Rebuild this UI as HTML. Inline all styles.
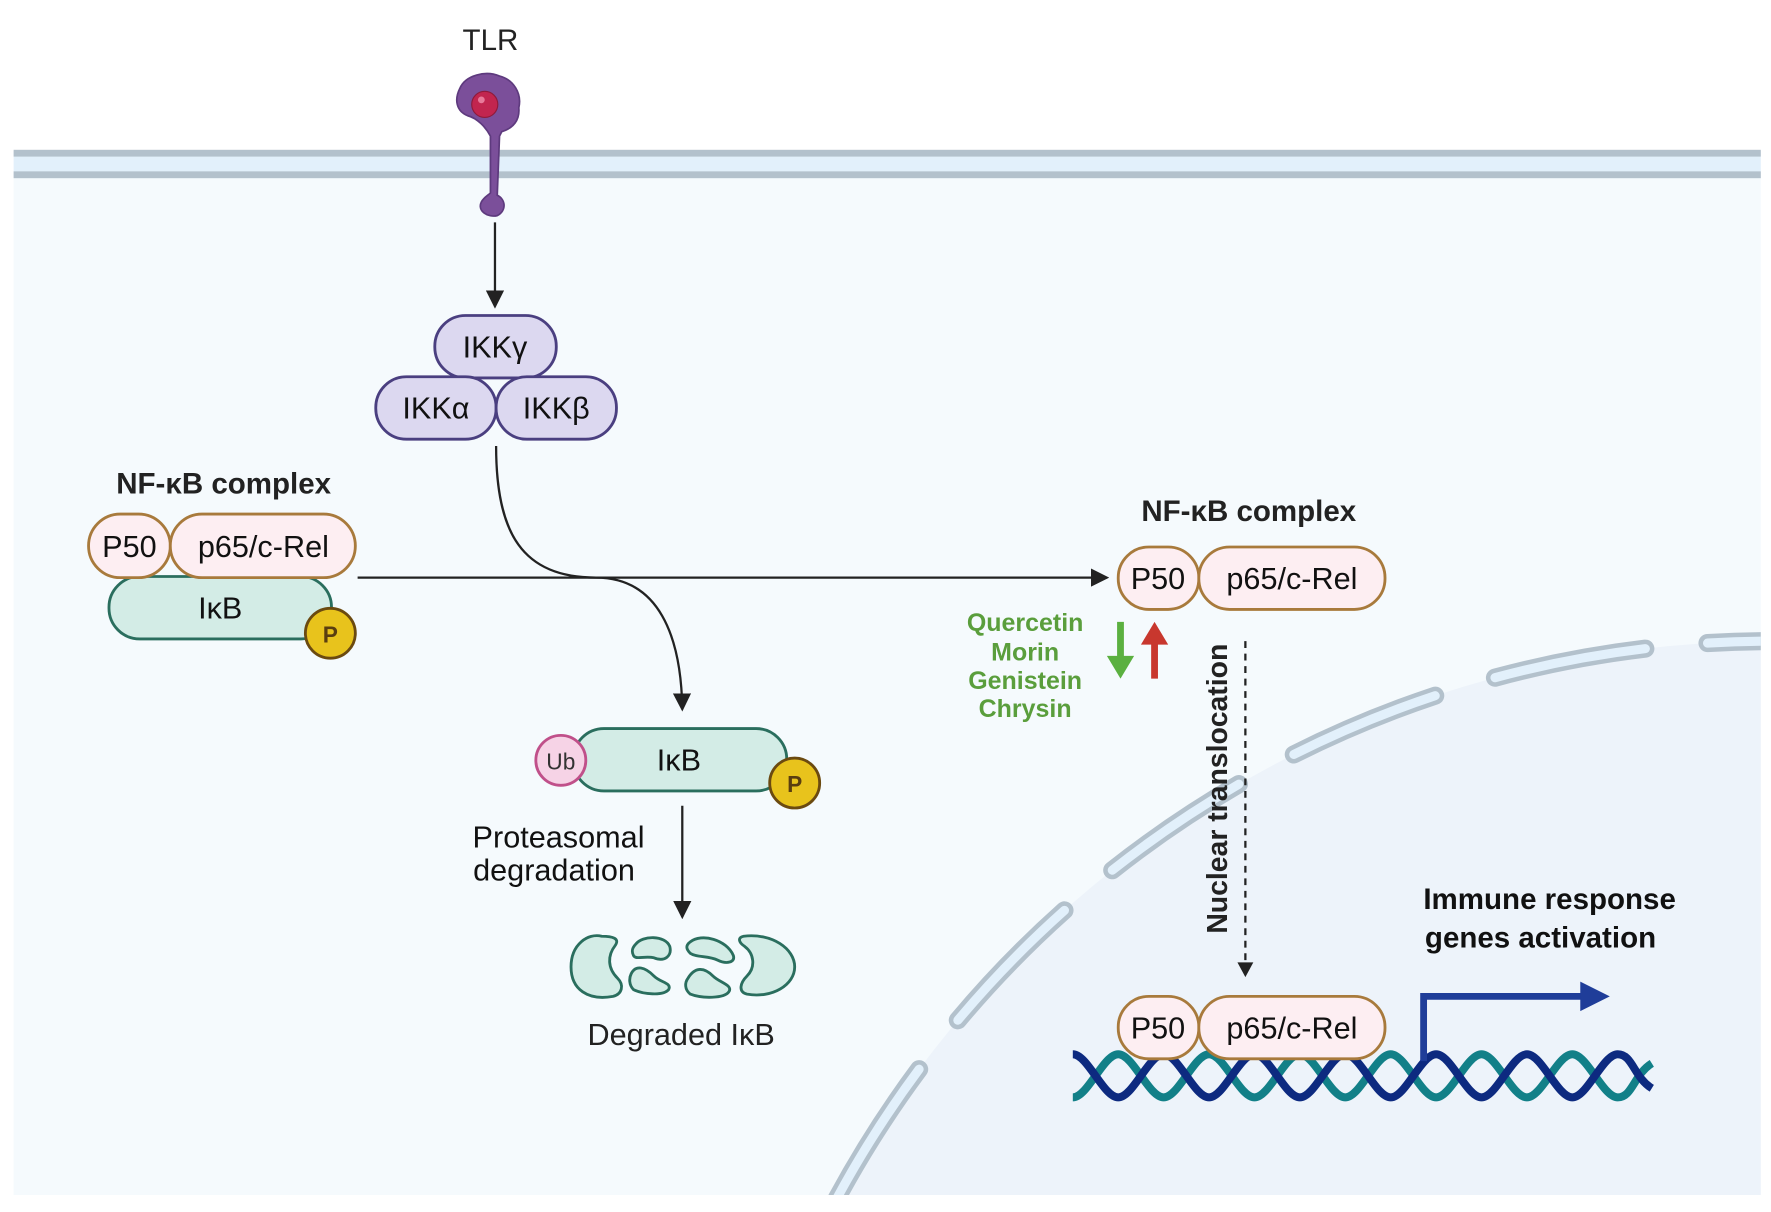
<!DOCTYPE html>
<html><head><meta charset="utf-8"><style>
html,body{margin:0;padding:0;background:#fff;overflow:hidden;width:1771px;height:1212px;}
svg{display:block;}
text{font-family:"Liberation Sans",sans-serif;}
</style></head><body>
<svg width="1771" height="1212" viewBox="0 0 1560 1068" preserveAspectRatio="none" xmlns="http://www.w3.org/2000/svg">
<defs>
<marker id="ah2" markerWidth="16" markerHeight="16" refX="14" refY="8" orient="auto" markerUnits="userSpaceOnUse"><path d="M0,0 L16,8 L0,16 z" fill="#222"/></marker>
<clipPath id="cell"><rect x="12" y="157" width="1539" height="896"/></clipPath>
</defs>
<rect width="1560" height="1068" fill="#fff"/>
<rect x="12" y="157" width="1539" height="896" fill="#f5fafd"/>
<rect x="12" y="133" width="1539" height="24" fill="#e2f0fb"/>
<rect x="12" y="132" width="1539" height="6" fill="#b3c1cc"/>
<rect x="12" y="151" width="1539" height="6" fill="#b3c1cc"/>
<g clip-path="url(#cell)">
<circle cx="1560" cy="1500" r="935" fill="#edf3fa"/>
<circle cx="1560" cy="1500" r="935" fill="none" stroke="#b3c1cc" stroke-width="16" stroke-dasharray="135 55" stroke-linecap="round" stroke-dashoffset="20"/>
<circle cx="1560" cy="1500" r="935" fill="none" stroke="#e2f0fb" stroke-width="8" stroke-dasharray="135 55" stroke-linecap="round" stroke-dashoffset="20"/>
</g>
<path d="M405,78 C410,66 428,62 440,67 C452,70 460,82 457,95 C458,106 452,113 442,116 L440,120 L438,172 C446,176 446,186 438,190 C430,192 420,186 424,178 C426,174 430,172 432,170 L432,120 C428,112 420,104 412,102 C402,98 400,88 405,78 z" fill="#7b4f9a" stroke="#5e3a7e" stroke-width="1.5"/>
<circle cx="427" cy="92" r="11.5" fill="#c2254f" stroke="#8e1a3a" stroke-width="1"/>
<circle cx="424" cy="88" r="3" fill="#e87a9a"/>
<text x="432" y="44" font-size="26" text-anchor="middle" fill="#222">TLR</text>
<line x1="436" y1="196" x2="436" y2="270" stroke="#222" stroke-width="2" marker-end="url(#ah2)"/>
<g stroke="#4a3f80" stroke-width="2.5" fill="#dcd8f0">
<rect x="383" y="278" width="107" height="55" rx="27"/>
<rect x="331" y="332" width="106" height="55" rx="27"/>
<rect x="437" y="332" width="106" height="55" rx="27"/>
</g>
<g font-size="27" text-anchor="middle" fill="#111">
<text x="436" y="315">IKKγ</text>
<text x="384" y="369">IKKα</text>
<text x="490" y="369">IKKβ</text>
</g>
<text x="197" y="435" font-size="26" font-weight="bold" text-anchor="middle" fill="#222">NF-κB complex</text>
<rect x="96" y="508" width="196" height="55" rx="27" fill="#d3ece6" stroke="#2a6e5e" stroke-width="2.5"/>
<text x="194" y="545" font-size="27" text-anchor="middle" fill="#111">IκB</text>
<circle cx="291" cy="558" r="22" fill="#e8c31c" stroke="#6b4a10" stroke-width="2.5"/>
<text x="291" y="566" font-size="20" font-weight="bold" text-anchor="middle" fill="#5a3e10">P</text>
<g stroke="#a87a3c" stroke-width="2.5" fill="#fdeef2">
<rect x="78" y="453" width="72" height="56" rx="28"/>
<rect x="150" y="453" width="163" height="56" rx="28"/>
</g>
<text x="114" y="491" font-size="27" text-anchor="middle" fill="#111">P50</text>
<text x="232" y="491" font-size="27" text-anchor="middle" fill="#111">p65/c-Rel</text>
<line x1="315" y1="509" x2="975" y2="509" stroke="#222" stroke-width="2" marker-end="url(#ah2)"/>
<path d="M437,393 C437,470 460,509 525,509 C580,509 600,560 601,625" fill="none" stroke="#222" stroke-width="2" marker-end="url(#ah2)"/>
<text x="1100" y="459" font-size="26" font-weight="bold" text-anchor="middle" fill="#222">NF-κB complex</text>
<g stroke="#a87a3c" stroke-width="2.5" fill="#fdeef2">
<rect x="985" y="482" width="71" height="55" rx="27"/>
<rect x="1056" y="482" width="164" height="55" rx="27"/>
</g>
<text x="1020" y="519" font-size="27" text-anchor="middle" fill="#111">P50</text>
<text x="1138" y="519" font-size="27" text-anchor="middle" fill="#111">p65/c-Rel</text>
<g font-size="22" font-weight="bold" text-anchor="middle" fill="#5a9e3c">
<text x="903" y="556">Quercetin</text>
<text x="903" y="582">Morin</text>
<text x="903" y="607">Genistein</text>
<text x="903" y="632">Chrysin</text>
</g>
<path d="M984,548 h6 v30 h9 l-12,20 l-12,-20 h9 z" fill="#5bb040"/>
<path d="M1014,598 h6 v-30 h9 l-12,-20 l-12,20 h9 z" fill="#c8372e"/>
<line x1="1097" y1="565" x2="1097" y2="848" stroke="#222" stroke-width="2" stroke-dasharray="6 5"/>
<path d="M1090,848 L1104,848 L1097,861 z" fill="#222"/>
<text transform="translate(1081,695) rotate(-90)" font-size="25" font-weight="bold" text-anchor="middle" fill="#222">Nuclear translocation</text>
<rect x="505" y="642" width="188" height="55" rx="27" fill="#d3ece6" stroke="#2a6e5e" stroke-width="2.5"/>
<text x="598" y="679" font-size="27" text-anchor="middle" fill="#111">IκB</text>
<circle cx="494" cy="670" r="22" fill="#f6d3e6" stroke="#c0508a" stroke-width="2.5"/>
<text x="494" y="678" font-size="20" text-anchor="middle" fill="#333">Ub</text>
<circle cx="700" cy="690" r="22" fill="#e8c31c" stroke="#6b4a10" stroke-width="2.5"/>
<text x="700" y="698" font-size="20" font-weight="bold" text-anchor="middle" fill="#5a3e10">P</text>
<g font-size="27" text-anchor="middle" fill="#111">
<text x="492" y="747">Proteasomal</text>
<text x="488" y="776">degradation</text>
</g>
<line x1="601" y1="710" x2="601" y2="808" stroke="#222" stroke-width="2" marker-end="url(#ah2)"/>
<g fill="#d3ece6" stroke="#2a6e5e" stroke-width="2.5" stroke-linejoin="round">
<path d="M530,825 C518,822 503,832 503,852 C503,872 518,882 540,878 C548,876 550,868 544,862 C535,853 535,842 542,833 C546,827 540,825 530,825 z"/>
<path d="M560,832 C566,824 586,824 590,834 C592,842 586,848 576,844 C568,842 560,846 558,842 C556,838 557,835 560,832 z"/>
<path d="M556,858 C560,850 568,852 576,860 C582,866 592,866 589,872 C584,878 566,876 558,872 C554,868 554,862 556,858 z"/>
<path d="M608,830 C618,822 640,828 646,842 C648,848 640,850 632,846 C624,842 614,844 608,840 C604,836 604,833 608,830 z"/>
<path d="M606,862 C612,852 620,852 628,860 C634,866 646,868 642,874 C638,880 618,880 608,876 C603,872 603,866 606,862 z"/>
<path d="M655,825 C680,822 700,836 700,852 C700,868 680,880 658,876 C650,874 652,866 658,860 C666,852 664,840 656,834 C650,830 650,826 655,825 z"/>
</g>
<text x="600" y="921" font-size="27" text-anchor="middle" fill="#222">Degraded IκB</text>
<g font-size="26" font-weight="bold" text-anchor="middle" fill="#111">
<text x="1365" y="801">Immune response</text>
<text x="1357" y="835">genes activation</text>
</g>
<!-- DNA -->
<path d="M945,967 c13,0 27,-38 40,-38 c13,0 27,38 40,38 c13,0 27,-38 40,-38 c13,0 27,38 40,38 c13,0 27,-38 40,-38 c13,0 27,38 40,38 c13,0 27,-38 40,-38 c13,0 27,38 40,38 c13,0 27,-38 40,-38 c13,0 27,38 40,38 c13,0 27,-38 40,-38 c13,0 27,38 40,38 c13,0 14,-20 30,-30" fill="none" stroke="#128088" stroke-width="7"/>
<path d="M945,929 c13,0 27,38 40,38 c13,0 27,-38 40,-38 c13,0 27,38 40,38 c13,0 27,-38 40,-38 c13,0 27,38 40,38 c13,0 27,-38 40,-38 c13,0 27,38 40,38 c13,0 27,-38 40,-38 c13,0 27,38 40,38 c13,0 27,-38 40,-38 c13,0 27,38 40,38 c13,0 27,-38 40,-38 c13,0 14,20 30,30" fill="none" stroke="#0d2a80" stroke-width="7"/>
<g stroke="#a87a3c" stroke-width="2.5" fill="#fdeef2">
<rect x="985" y="878" width="71" height="55" rx="27"/>
<rect x="1056" y="878" width="164" height="55" rx="27"/>
</g>
<text x="1020" y="915" font-size="27" text-anchor="middle" fill="#111">P50</text>
<text x="1138" y="915" font-size="27" text-anchor="middle" fill="#111">p65/c-Rel</text>
<path d="M1254,935 V878 H1395" fill="none" stroke="#1f3d99" stroke-width="6"/>
<path d="M1392,865 L1418,878 L1392,891 z" fill="#1f3d99"/>
</svg>
</body></html>
